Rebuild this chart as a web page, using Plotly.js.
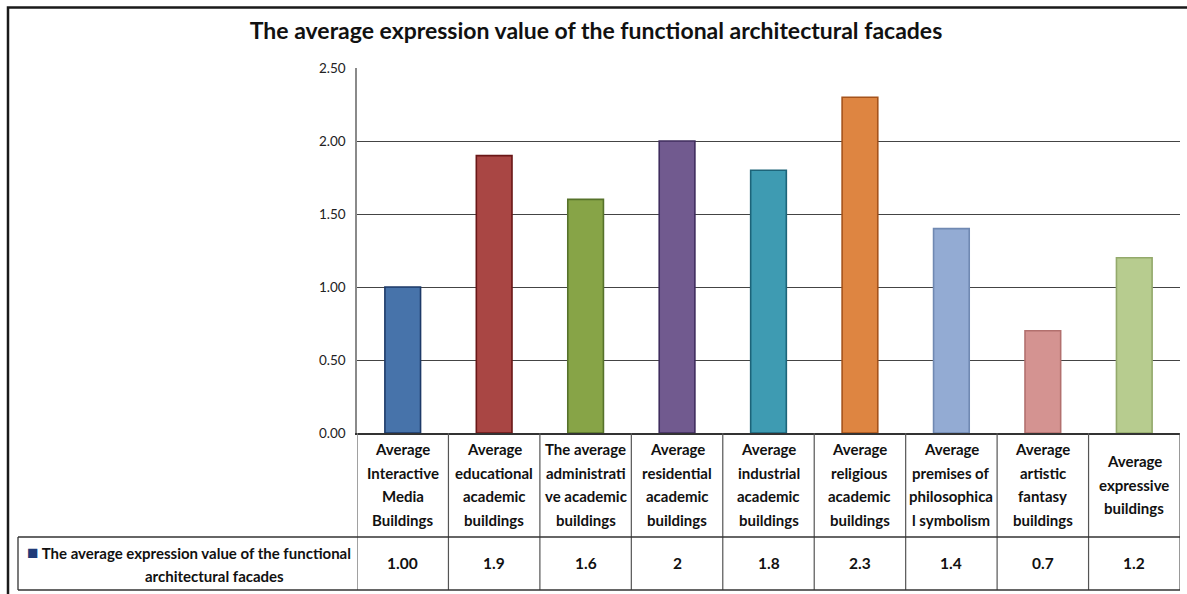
<!DOCTYPE html>
<html>
<head>
<meta charset="utf-8">
<script src="https://cdn.plot.ly/plotly-3.0.1.min.js"></script>
<style>
  html, body { margin: 0; padding: 0; background: #fff; }
  #chart { width: 1187px; height: 594px; }
</style>
</head>
<body>
<div id="chart"></div>
<script>
// Building categories (header row of the data table), one entry per wrapped line
const categories = [
  ["Average", "Interactive", "Media", "Buildings"],
  ["Average", "educational", "academic", "buildings"],
  ["The average", "administrati", "ve academic", "buildings"],
  ["Average", "residential", "academic", "buildings"],
  ["Average", "industrial", "academic", "buildings"],
  ["Average", "religious", "academic", "buildings"],
  ["Average", "premises of", "philosophica", "l symbolism"],
  ["Average", "artistic", "fantasy", "buildings"],
  ["Average", "expressive", "buildings"]
];

// Average expression value per category
const values = [1.0, 1.9, 1.6, 2, 1.8, 2.3, 1.4, 0.7, 1.2];

// Decimal places shown in the table row (null = as entered)
const tableDecimals = [2, null, null, null, null, null, null, null, null];

const seriesName = "The average expression value of the functional architectural facades";
const legendLines = ["The average expression value of the functional", "architectural facades"];

const yTicks = [0, 0.5, 1.0, 1.5, 2.0, 2.5];

// Per-bar fill and edge colours
const fillColors = ["#4773AA", "#A94644", "#87A447", "#715A8F", "#3E9BB2", "#DE8541", "#93ABD3", "#D49391", "#B7CC8F"];
const edgeColors = ["#1D3A68", "#6A1717", "#56722A", "#3F2C5E", "#1D6479", "#A5531B", "#7089B2", "#B2706E", "#93A96B"];

const FONT = "Lato, 'Noto Sans', sans-serif";

const xs = categories.map((_, i) => i);

const trace = {
  type: "bar",
  x: xs,
  y: values,
  width: 0.39,
  name: seriesName,
  marker: { color: fillColors, line: { color: edgeColors, width: 1.6 } },
  hoverinfo: "y"
};

// Paper-space geometry of the data table under the plot (plot height 365px)
const PX = 1 / 365;
const headerMid = -51.5 * PX;
const lineStep = 23.7 * PX;
const rowTop = -104 * PX;
const rowMid = -130 * PX;
const tableBottom = -157 * PX;
const legendLeft = (18 - 357) / 823;

const annotations = [];
const shapes = [];

categories.forEach((lines, i) => {
  const n = lines.length;
  lines.forEach((ln, k) => {
    annotations.push({
      xref: "x", yref: "paper", x: i,
      y: headerMid - (k - (n - 1) / 2) * lineStep,
      text: "<b>" + ln + "</b>", showarrow: false,
      xanchor: "center", yanchor: "middle",
      font: { family: FONT, size: 15, color: "#111" }
    });
  });
  const d = tableDecimals[i];
  const label = d === null ? String(values[i]) : values[i].toFixed(d);
  annotations.push({
    xref: "x", yref: "paper", x: i, y: rowMid,
    text: "<b>" + label + "</b>", showarrow: false,
    xanchor: "center", yanchor: "middle",
    font: { family: FONT, size: 15.5, color: "#111" }
  });
});

// Legend cell text with its key
annotations.push({
  xref: "paper", yref: "paper", x: (189 - 357) / 823, y: -118 * PX,
  text: "<b><span style='color:#1F3A78;font-size:19px'>■</span> " + legendLines[0] + "</b>",
  showarrow: false, xanchor: "center", yanchor: "middle",
  font: { family: FONT, size: 15, color: "#111" }
});
annotations.push({
  xref: "paper", yref: "paper", x: (214 - 357) / 823, y: -143 * PX,
  text: "<b>" + legendLines[1] + "</b>",
  showarrow: false, xanchor: "center", yanchor: "middle",
  font: { family: FONT, size: 15, color: "#111" }
});

// Column separators through both table rows
for (let i = 0; i <= categories.length; i++) {
  shapes.push({
    type: "line", xref: "x", yref: "paper",
    x0: i - 0.5, x1: i - 0.5, y0: 0, y1: tableBottom,
    line: { color: i === 0 ? "#8a8a8a" : "#555", width: i === 0 ? 1.6 : 1.2 }
  });
}
// Horizontal table rules
[rowTop, tableBottom].forEach(yv => {
  shapes.push({
    type: "line", xref: "paper", yref: "paper",
    x0: legendLeft, x1: 1, y0: yv, y1: yv,
    line: { color: "#333", width: 1.3 }
  });
});
// Legend cell left edge
shapes.push({
  type: "line", xref: "paper", yref: "paper",
  x0: legendLeft, x1: legendLeft, y0: rowTop, y1: tableBottom,
  line: { color: "#333", width: 1.3 }
});

// Chart frame
shapes.push({
  type: "rect", xref: "paper", yref: "paper",
  x0: (8 - 357) / 823, x1: (1195 - 357) / 823,
  y0: (433 - 600) / 365, y1: (433 - 7.5) / 365,
  line: { color: "#1a1a1a", width: 2.5 }, fillcolor: "rgba(0,0,0,0)"
});

const layout = {
  width: 1187, height: 594,
  margin: { l: 357, r: 7, t: 68, b: 161 },
  paper_bgcolor: "#fff", plot_bgcolor: "#fff",
  showlegend: false,
  title: {
    text: "<b>" + seriesName + "</b>",
    xref: "container", yref: "container",
    x: 596 / 1187, y: 1 - 31 / 594, xanchor: "center", yanchor: "middle",
    font: { family: FONT, size: 23, color: "#111" }
  },
  xaxis: {
    range: [-0.5, categories.length - 0.5],
    showticklabels: false, ticks: "",
    showgrid: false, zeroline: false,
    showline: true, linecolor: "#333", linewidth: 1.5,
    fixedrange: true
  },
  yaxis: {
    range: [0, 2.5],
    tickvals: yTicks, tickformat: ".2f",
    ticks: "", ticklabelstandoff: 7,
    tickfont: { family: FONT, size: 13.5, color: "#222" },
    showgrid: true, gridcolor: "#444", gridwidth: 1,
    zeroline: false,
    showline: true, linecolor: "#8a8a8a", linewidth: 1.6,
    fixedrange: true
  },
  annotations: annotations,
  shapes: shapes
};

Plotly.newPlot("chart", [trace], layout, { displayModeBar: false, staticPlot: true });
</script>
</body>
</html>
